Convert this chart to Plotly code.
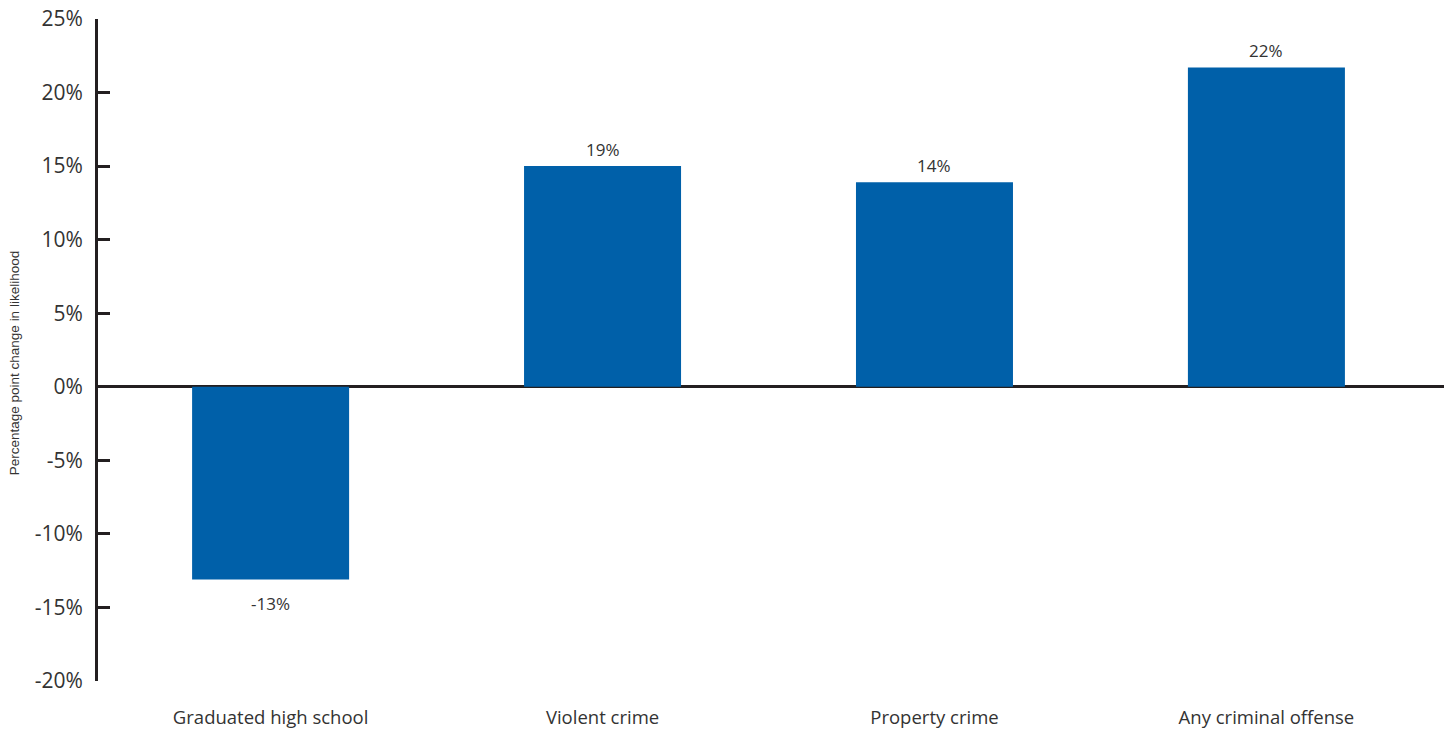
import plotly.graph_objects as go

categories = ["Graduated high school", "Violent crime", "Property crime", "Any criminal offense"]
values = [-13.1, 15.0, 13.9, 21.7]
bar_labels = ["-13%", "19%", "14%", "22%"]
tick_vals = [-20, -15, -10, -5, 0, 5, 10, 15, 20, 25]
tick_text = ["-20%", "-15%", "-10%", "-5%", "0%", "5%", "10%", "15%", "20%", "25%"]

FONT = "Open Sans, Lato, DejaVu Sans, sans-serif"
DARK = "#231f20"

fig = go.Figure(go.Bar(
    x=list(range(len(categories))),
    y=values,
    marker=dict(color="#0060a9", line=dict(width=0)),
    width=0.473,
    hoverinfo="skip",
))

plot_left, plot_right = 98, 1444
annotations = []
for i, (v, t) in enumerate(zip(values, bar_labels)):
    annotations.append(dict(
        x=i, y=v, xref="x", yref="y", text=t, showarrow=False,
        yshift=17 if v >= 0 else -24,
        font=dict(size=17, color="#333333", family=FONT),
    ))
annotations.append(dict(
    x=(14 - plot_left) / (plot_right - plot_left), y=0.48,
    xref="paper", yref="paper", xanchor="center", yanchor="middle",
    text="Percentage point change in likelihood", textangle=-90, showarrow=False,
    font=dict(size=13.5, color="#333333", family="Liberation Sans, Arial, sans-serif"),
))

fig.update_layout(
    width=1448, height=731,
    margin=dict(l=98, r=4, t=19, b=50, autoexpand=False),
    paper_bgcolor="white", plot_bgcolor="white",
    showlegend=False,
    font=dict(family=FONT, color="#333333"),
    annotations=annotations,
    xaxis=dict(
        range=[-0.52, 3.535],
        tickmode="array",
        tickvals=list(range(len(categories))),
        ticktext=categories,
        showline=False, showgrid=False, zeroline=False,
        ticks="", ticklabelstandoff=23, automargin=False,
        tickfont=dict(size=18.5, color="#333333", family=FONT),
    ),
    yaxis=dict(
        range=[-20, 25],
        tickmode="array",
        tickvals=tick_vals,
        ticktext=tick_text,
        showgrid=False, automargin=False,
        showline=True, linecolor=DARK, linewidth=3,
        ticks="inside", ticklen=12, tickwidth=3, tickcolor=DARK,
        zeroline=True, zerolinecolor=DARK, zerolinewidth=3,
        tickfont=dict(size=21, color="#333333", family=FONT),
        ticklabelstandoff=8,
    ),
)

fig.write_html("out.html", config={"displayModeBar": False},
               post_script="document.body.style.margin='0';document.body.style.overflow='hidden';")
